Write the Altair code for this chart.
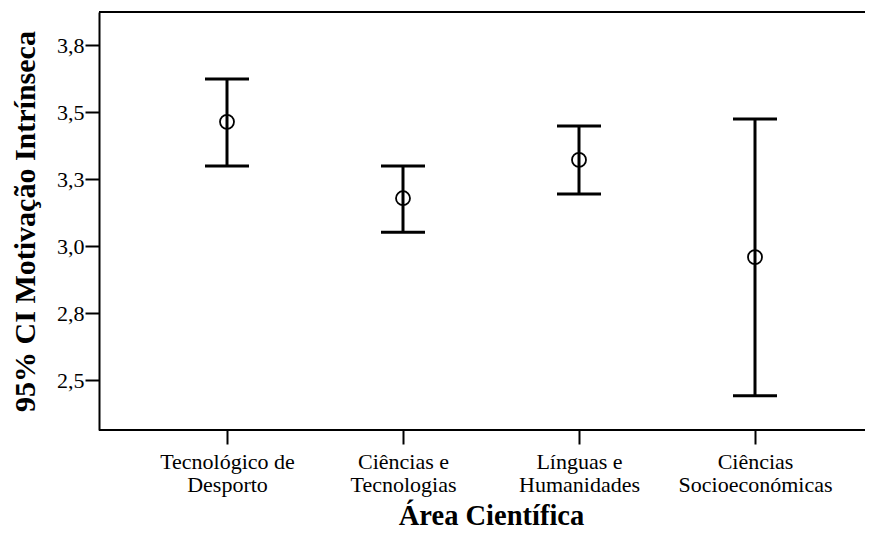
import altair as alt
import pandas as pd

categories = ["Tecnológico de\nDesporto", "Ciências e\nTecnologias", "Línguas e\nHumanidades", "Ciências\nSocioeconómicas"]
means = [3.465, 3.180, 3.323, 2.960]
lowers = [3.300, 3.053, 3.196, 2.443]
uppers = [3.625, 3.300, 3.450, 3.476]
y_ticks = [2.5, 2.75, 3.0, 3.25, 3.5, 3.75]

df = pd.DataFrame({"cat": categories, "mean": means, "lo": lowers, "hi": uppers})

FONT = "Liberation Serif"
W, H = 766, 418

x_enc = alt.X("cat:N", sort=categories,
              scale=alt.Scale(type="point", range=[128, 656], padding=0),
              axis=alt.Axis(title="Área Científica", labelAngle=0,
                            labelExpr="split(datum.label, '\\n')",
                            labelFont=FONT, labelFontSize=22, labelColor="black",
                            labelLineHeight=23, labelPadding=7,
                            tickSize=14, tickWidth=2, tickColor="black",
                            domain=False,
                            titleFont=FONT, titleFontSize=28.5, titleFontWeight="bold",
                            titleColor="black", titlePadding=6))
y_scale = alt.Scale(domain=[2.315, 3.875], nice=False, zero=False)
y_axis = alt.Axis(title="95% CI Motivação Intrínseca", values=y_ticks,
                  labelExpr="replace(format(datum.value, '.1f'), '.', ',')",
                  labelFont=FONT, labelFontSize=22, labelColor="black", labelPadding=1,
                  tickSize=14, tickWidth=2, tickColor="black",
                  domainWidth=2, domainColor="black", grid=False,
                  titleFont=FONT, titleFontSize=30, titleFontWeight="bold",
                  titleColor="black", titlePadding=16)

base = alt.Chart(df).encode(x=x_enc)

rules = base.mark_rule(color="black", strokeWidth=3, opacity=1).encode(
    y=alt.Y("lo:Q", scale=y_scale, axis=y_axis), y2="hi:Q")
cap_hi = base.mark_tick(color="black", thickness=3, size=44, orient="horizontal", opacity=1).encode(
    y=alt.Y("hi:Q", scale=y_scale, axis=y_axis))
cap_lo = base.mark_tick(color="black", thickness=3, size=44, orient="horizontal", opacity=1).encode(
    y=alt.Y("lo:Q", scale=y_scale, axis=y_axis))
pts = base.mark_point(shape="circle", filled=False, size=196, strokeWidth=1.8, color="black", opacity=1).encode(
    y=alt.Y("mean:Q", scale=y_scale, axis=y_axis))
top = alt.Chart(df).mark_rule(color="black", strokeWidth=2).encode(
    x=alt.value(0), x2=alt.value(W), y=alt.value(0))
bottom = alt.Chart(df).mark_rule(color="black", strokeWidth=2).encode(
    x=alt.value(0), x2=alt.value(W), y=alt.value(H))

chart = alt.layer(rules, cap_hi, cap_lo, pts, top, bottom).properties(
    width=W, height=H,
    autosize=alt.AutoSizeParams(type="none"),
    padding={"left": 91, "top": 4, "right": 0, "bottom": 101},
).configure_view(stroke=None).configure(background="white")

chart.save("out.html", embed_options={"renderer": "svg", "actions": False})
